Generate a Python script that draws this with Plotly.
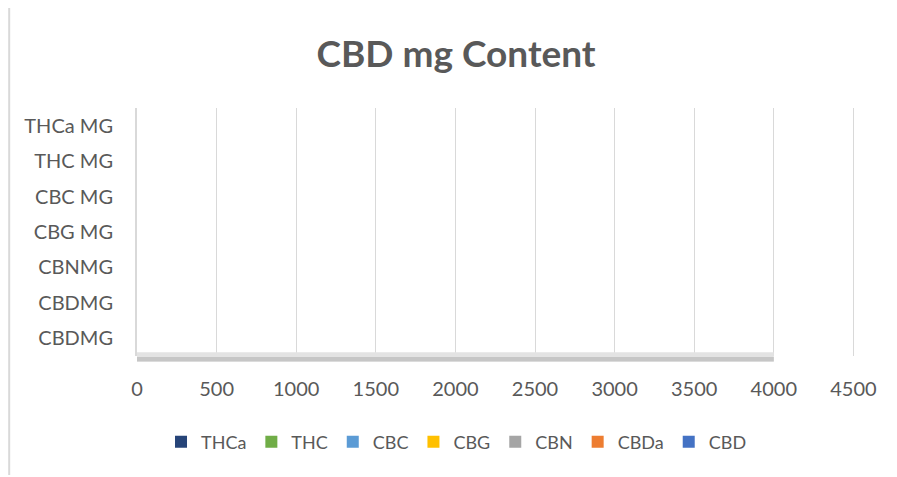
import plotly.graph_objects as go

categories = ["CBDMG", "CBDMG", "CBNMG", "CBG MG", "CBC MG", "THC MG", "THCa MG"]
series_names = ["THCa", "THC", "CBC", "CBG", "CBN", "CBDa", "CBD"]
series_colors = ["#264478", "#70AD47", "#5B9BD5", "#FFC000", "#A5A5A5", "#ED7D31", "#4472C4"]
series_values = {
    "THCa": [0, 0, 0, 0, 0, 0, 0],
    "THC": [0, 0, 0, 0, 0, 0, 0],
    "CBC": [0, 0, 0, 0, 0, 0, 0],
    "CBG": [0, 0, 0, 0, 0, 0, 0],
    "CBN": [0, 0, 0, 0, 0, 0, 0],
    "CBDa": [0, 0, 0, 0, 0, 0, 0],
    "CBD": [0, 0, 0, 0, 0, 0, 0],
}
x_ticks = [0, 500, 1000, 1500, 2000, 2500, 3000, 3500, 4000, 4500]
floor_end = 4000

positions = list(range(len(categories)))
FONT = "Lato, 'Open Sans', sans-serif"
GREY_TEXT = "#595959"

fig = go.Figure()
for name, color in zip(series_names, series_colors):
    fig.add_trace(go.Bar(
        y=positions, x=series_values[name], name=name, orientation="h",
        marker=dict(color=color, line=dict(width=0)),
    ))

# 3D-style floor band
fig.add_shape(type="rect", xref="x", yref="paper", x0=0, x1=floor_end, y0=-0.022, y1=0.015,
              fillcolor="#E3E3E3", line=dict(width=0), layer="above")
fig.add_shape(type="rect", xref="x", yref="paper", x0=0, x1=floor_end, y0=-0.022, y1=-0.004,
              fillcolor="#C6C6C6", line=dict(width=0), layer="above")
# chart area border (left and top)
fig.add_shape(type="line", xref="paper", yref="paper", x0=-0.178, x1=-0.178, y0=-0.48, y1=1.407,
              line=dict(color="#D9D9D9", width=2))
fig.add_shape(type="line", xref="paper", yref="paper", x0=-0.178, x1=1.1, y0=1.407, y1=1.407,
              line=dict(color="#D9D9D9", width=2))

fig.update_layout(
    width=889, height=469,
    margin=dict(l=129, r=42, t=100, b=121),
    paper_bgcolor="white", plot_bgcolor="white",
    barmode="group",
    title=dict(text="<b>CBD mg Content</b>", x=0.504, xanchor="center", y=0.902, yanchor="middle",
               font=dict(family=FONT, size=37, color=GREY_TEXT)),
    font=dict(family=FONT, size=20, color=GREY_TEXT),
    xaxis=dict(range=[0, 4510], tickvals=x_ticks, ticktext=[str(v) for v in x_ticks],
               showgrid=True, gridcolor="#D9D9D9", gridwidth=1, zeroline=False, showline=False,
               ticks="", ticklabelstandoff=19, tickfont=dict(size=20), fixedrange=True),
    yaxis=dict(range=[-0.5, len(categories) - 0.5], tickvals=positions, ticktext=categories,
               showgrid=False, zeroline=False, showline=True, linecolor="#D9D9D9", linewidth=2,
               ticks="", ticklabelstandoff=18, tickfont=dict(size=20), fixedrange=True),
    legend=dict(orientation="h", x=0.445, xanchor="center", y=-0.347, yanchor="middle",
                font=dict(size=18, color=GREY_TEXT), traceorder="normal"),
    showlegend=True,
)

fig.write_html("out.html")
